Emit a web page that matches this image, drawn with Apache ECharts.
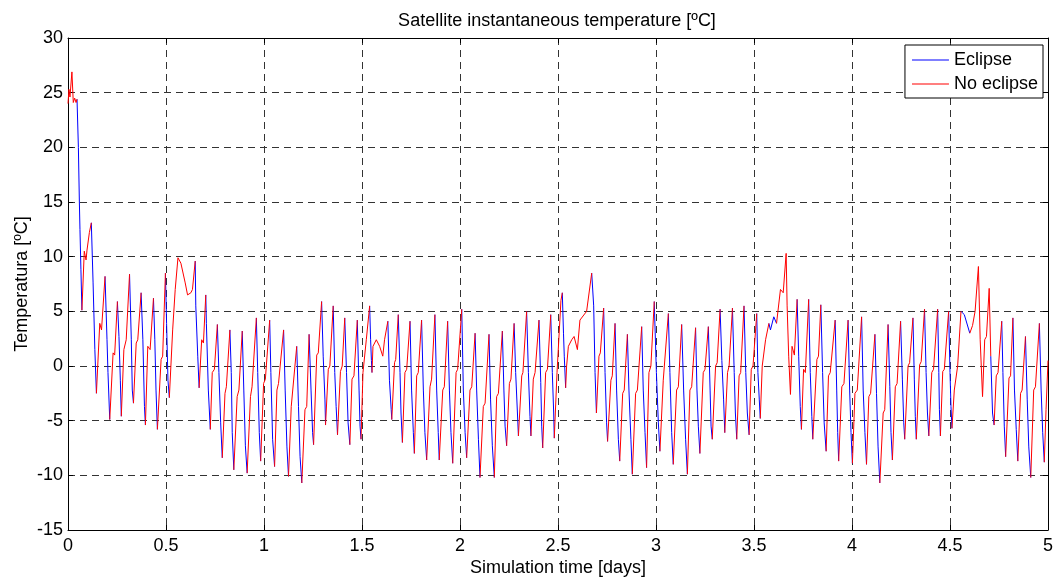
<!DOCTYPE html>
<html>
<head>
<meta charset="utf-8">
<script src="https://cdn.jsdelivr.net/npm/echarts@6/dist/echarts.min.js"></script>
<style>
  html, body { margin: 0; padding: 0; background: #fff; }
  #chart { width: 1053px; height: 577px; }
</style>
</head>
<body>
<div id="chart"></div>
<script>
// time [days] of each read point, one row per orbit (roughly)
var dayPts = [
  0.000,0.005,0.010,0.020,0.027,0.034,0.041,0.046,0.053,0.058,0.061,0.066,0.071,
  0.083,0.092,0.097,0.109,0.119,0.128,0.137,0.145,
  0.162,0.171,0.189,0.199,0.204,0.213,
  0.230,0.238,0.252,0.260,0.267,0.272,
  0.285,0.297,0.314,0.323,0.328,0.334,
  0.348,0.356,0.373,0.382,0.390,0.395,
  0.407,0.419,0.436,0.443,0.449,0.456,
  0.475,0.483,0.497,0.503,0.510,0.517,
  0.534,0.547,0.561,0.576,0.584,0.598,0.610,0.627,0.635,0.649,0.652,0.662,0.669,
  0.682,0.691,0.703,0.706,0.716,0.726,
  0.736,0.747,0.762,0.770,0.779,0.787,
  0.801,0.808,0.826,0.833,0.838,0.846,
  0.863,0.872,0.889,0.897,0.905,0.914,
  0.931,0.939,0.961,0.968,0.976,0.983,
  0.998,1.007,1.029,1.035,1.044,1.054,
  1.066,1.074,1.100,1.108,1.117,1.125,
  1.139,1.145,1.167,1.176,1.184,1.193,
  1.209,1.218,1.230,1.240,1.248,1.253,
  1.269,1.277,1.294,1.302,1.311,1.314,
  1.328,1.336,1.353,1.361,1.368,1.375,
  1.390,1.399,1.412,1.421,1.429,1.438,
  1.449,1.459,1.476,1.485,1.490,1.495,
  1.505,1.522,1.539,1.544,1.548,1.551,
  1.556,1.573,1.590,1.606,1.615,1.632,1.640,1.649,1.652,
  1.666,1.672,1.685,1.694,1.699,1.706,
  1.719,1.728,1.745,1.753,1.762,1.767,
  1.779,1.787,1.804,1.813,1.821,1.830,
  1.847,1.855,1.872,1.881,1.889,1.894,
  1.912,1.920,1.937,1.946,1.954,1.963,
  1.980,1.988,2.009,2.017,2.026,2.034,
  2.051,2.060,2.077,2.085,2.094,2.102,
  2.119,2.128,2.148,2.156,2.165,2.175,
  2.187,2.196,2.216,2.224,2.230,2.238,
  2.252,2.260,2.276,2.284,2.293,2.298,
  2.315,2.321,2.340,2.349,2.357,2.362,
  2.374,2.383,2.403,2.412,2.417,2.422,
  2.437,2.446,2.463,2.471,2.478,2.481,
  2.495,2.515,2.522,2.528,2.532,2.539,
  2.544,2.553,2.570,2.582,2.599,2.612,2.646,2.672,2.682,2.689,2.696,
  2.709,2.716,2.733,2.740,2.748,2.753,
  2.770,2.777,2.791,2.799,2.808,2.815,
  2.830,2.838,2.854,2.862,2.872,2.879,
  2.896,2.905,2.927,2.935,2.944,2.952,
  2.964,2.974,2.991,3.002,3.012,3.020,
  3.037,3.046,3.063,3.071,3.080,3.088,
  3.105,3.114,3.131,3.141,3.151,3.160,
  3.173,3.182,3.202,3.209,3.216,3.224,
  3.241,3.250,3.267,3.276,3.281,3.287,
  3.304,3.312,3.327,3.336,3.345,3.351,
  3.365,3.373,3.390,3.399,3.405,3.412,
  3.424,3.432,3.449,3.458,3.466,3.475,
  3.486,3.495,3.514,3.520,3.527,3.532,
  3.542,3.559,3.576,3.584,3.601,3.615,3.635,3.649,3.664,3.669,3.677,3.686,
  3.694,3.706,3.720,3.728,3.736,3.742,
  3.753,3.762,3.779,3.787,3.795,3.800,
  3.821,3.829,3.841,3.850,3.858,3.868,
  3.880,3.889,3.914,3.922,3.927,3.932,
  3.948,3.959,3.980,3.988,3.995,4.002,
  4.015,4.027,4.049,4.057,4.066,4.074,
  4.086,4.095,4.117,4.125,4.133,4.142,
  4.159,4.167,4.184,4.193,4.199,4.206,
  4.221,4.230,4.248,4.257,4.264,4.269,
  4.286,4.294,4.311,4.318,4.323,4.328,
  4.345,4.353,4.370,4.378,4.385,4.392,
  4.407,4.416,4.437,4.443,4.446,4.451,
  4.463,4.471,4.493,4.500,4.505,4.510,
  4.522,4.539,4.556,4.573,4.581,4.601,4.615,4.628,4.645,4.654,4.666,
  4.677,4.686,4.700,4.708,4.717,4.725,
  4.736,4.745,4.764,4.770,4.777,4.784,
  4.801,4.809,4.821,4.829,4.838,4.846,
  4.860,4.868,4.885,4.894,4.902,4.912,
  4.927,4.936,4.956,4.965,4.973,4.981,
  4.990,5.000
];

// temperature [ºC] at those points
var tempPts = [
  24.0,25.3,24.6,26.9,24.1,24.5,24.1,24.4,20.0,15.0,12.5,8.8,5.1,
  10.5,9.7,10.6,12.2,13.1,7.6,1.5,-2.5,
  3.9,3.3,8.2,2.4,-0.6,-4.9,
  1.2,1.0,5.9,2.7,-1.3,-4.6,
  1.5,2.4,8.4,2.4,-2.2,-3.4,
  2.1,2.4,6.7,2.4,-3.7,-5.4,
  1.8,1.5,6.2,2.4,-2.2,-5.8,
  0.6,0.9,8.5,3.9,-1.3,-2.9,
  3.3,7.0,9.9,9.4,9.3,7.6,6.5,6.7,7.0,9.6,5.5,0.9,-2.0,
  2.4,2.1,6.5,3.9,-2.2,-5.8,
  -0.6,-0.3,3.8,-0.6,-5.2,-8.4,
  -2.5,-1.9,3.3,-0.6,-6.1,-9.5,
  -2.8,-2.2,3.2,-2.2,-7.3,-9.8,
  -2.8,-1.9,4.4,-0.6,-6.1,-8.7,
  -1.6,-1.2,4.2,-0.6,-6.7,-9.2,
  -2.2,-1.6,3.3,-2.2,-7.4,-10.1,
  -3.7,-3.8,1.8,-3.7,-8.3,-10.7,
  -4.0,-3.7,2.9,-2.2,-6.1,-7.2,
  1.0,1.2,5.9,0.9,-3.1,-5.4,
  -0.3,0.0,5.5,-0.6,-3.7,-6.3,
  -0.5,0.0,4.4,-0.6,-5.2,-7.2,
  -1.2,-0.9,4.2,-2.2,-5.5,-6.7,
  -0.6,2.4,5.5,2.4,0.5,-0.6,
  1.8,2.4,1.8,0.9,2.4,4.1,-1.3,-4.0,-4.9,
  0.3,0.6,4.7,-0.6,-4.3,-7.0,
  -0.6,-0.3,4.1,-2.2,-6.1,-8.0,
  -0.9,-0.6,4.2,-2.2,-6.1,-8.6,
  -1.9,-1.2,4.7,-2.2,-6.1,-8.6,
  -2.2,-1.9,4.1,-2.2,-6.1,-8.9,
  -0.6,-0.3,5.2,-2.2,-6.1,-8.4,
  -2.2,-1.9,3.0,-2.2,-6.7,-10.2,
  -3.7,-3.4,2.9,-3.1,-7.3,-10.2,
  -2.8,-2.5,3.2,-2.2,-5.5,-7.3,
  -1.6,-1.2,3.9,-0.6,-4.3,-6.4,
  -0.9,-0.6,5.0,-0.6,-4.6,-6.4,
  -1.2,-0.6,4.2,-1.5,-5.5,-7.5,
  -0.6,-0.3,4.7,-0.6,-4.3,-6.6,
  -0.6,6.0,6.7,3.0,0.9,-2.0,
  0.0,1.8,2.4,2.7,1.5,4.2,5.0,8.5,5.5,-0.6,-4.3,
  0.9,1.2,5.3,-0.6,-5.2,-6.9,
  -1.3,-0.9,3.9,-2.2,-6.7,-8.7,
  -2.5,-2.2,2.9,-2.2,-6.7,-9.9,
  -2.5,-2.2,3.6,-2.2,-6.1,-9.3,
  -0.6,0.0,5.9,-0.6,-5.2,-7.8,
  -1.3,-1.3,4.8,-0.6,-6.1,-9.0,
  -2.2,-1.9,3.8,-2.2,-6.7,-9.9,
  -2.2,-1.9,3.5,-2.2,-5.5,-8.0,
  -0.6,-0.3,3.6,-2.2,-5.5,-6.7,
  0.0,0.3,5.2,0.5,-3.1,-6.1,
  -0.6,0.0,5.3,-0.6,-4.3,-6.7,
  -0.9,-0.6,5.5,-0.6,-4.3,-6.3,
  -0.3,0.0,4.8,-0.6,-3.1,-4.8,
  0.0,2.4,3.9,3.3,4.5,3.9,7.0,6.7,10.3,5.5,0.9,-2.6,
  1.8,1.0,6.1,0.9,-3.7,-5.8,
  -0.3,-0.6,6.1,-0.6,-4.6,-6.7,
  0.6,0.9,5.6,-0.6,-5.2,-7.8,
  -0.9,-0.6,4.2,-2.2,-6.1,-8.7,
  -1.9,-1.6,4.2,-2.2,-6.1,-8.9,
  -2.5,-2.2,4.5,-2.2,-6.1,-9.0,
  -2.8,-2.5,2.9,-2.5,-7.4,-10.7,
  -4.3,-4.0,3.8,-1.9,-6.1,-8.6,
  -1.9,-1.6,4.1,-1.2,-5.2,-6.7,
  0.0,0.3,4.4,-1.2,-4.6,-6.7,
  0.1,0.4,5.2,-0.6,-4.3,-6.4,
  -0.6,-0.3,5.2,-0.6,-4.0,-6.4,
  -0.5,-0.3,5.0,-0.6,-3.7,-5.7,
  -2.2,0.0,5.0,4.7,4.8,3.0,3.7,5.0,9.1,2.4,-2.8,
  2.4,2.7,7.1,0.9,-4.3,-5.4,
  -0.9,-0.6,4.1,-0.6,-5.5,-8.3,
  -1.1,-0.9,4.4,-2.2,-5.8,-8.7,
  -2.5,-2.2,2.7,-3.1,-7.4,-10.2,
  -2.2,-1.9,3.9,-2.2,-6.1,-8.8,
  -4.0,0.5
];

// which state the curve is in on the way into each point: S = sunlit, E = eclipse
var phaseRows = [
  'SSSSSSSSEEEEE', 'SSSSSEEE',
  'SSSEEE', 'SSSEEE', 'SSSEEE', 'SSSEEE', 'SSSEEE', 'SSSEEE',
  'SSSSSSSSSSEEE',
  'SSSEEE', 'SSSEEE', 'SSSEEE', 'SSSEEE', 'SSSEEE', 'SSSEEE', 'SSSEEE', 'SSSEEE',
  'SSSEEE', 'SSSEEE', 'SSSEEE', 'SSSEEE', 'SSSEEE', 'SSSEEE',
  'SSSSSSEEE',
  'SSSEEE', 'SSSEEE', 'SSSEEE', 'SSSEEE', 'SSSEEE', 'SSSEEE', 'SSSEEE', 'SSSEEE',
  'SSSEEE', 'SSSEEE', 'SSSEEE', 'SSSEEE', 'SSSEEE', 'SSSEEE',
  'SSSSSSSSEEE',
  'SSSEEE', 'SSSEEE', 'SSSEEE', 'SSSEEE', 'SSSEEE', 'SSSEEE', 'SSSEEE', 'SSSEEE',
  'SSSEEE', 'SSSEEE', 'SSSEEE', 'SSSEEE', 'SSSEEE', 'SSSEEE',
  'SSSSSSSSSEEE',
  'SSSEEE', 'SSSEEE', 'SSSEEE', 'SSSEEE', 'SSSEEE', 'SSSEEE', 'SSSEEE', 'SSSEEE',
  'SSSEEE', 'SSSEEE', 'SSSEEE', 'SSSEEE', 'SSSEEE',
  'SSSSSSSSSEE',
  'SSSEEE', 'SSSEEE', 'SSSEEE', 'SSSEEE', 'SSSEEE',
  'SS'
];
var phase = phaseRows.join('');

var xTicks = { min: 0, max: 5, step: 0.5 };
var yTicks = { min: -15, max: 30, step: 5 };

// split the single curve into the pieces of one state, with gaps between pieces
function pieces(state) {
  var out = [], last = -2;
  for (var i = 1; i < dayPts.length; i++) {
    if (phase[i] !== state) continue;
    if (last !== i - 1) {
      if (out.length) out.push([dayPts[i - 1], null]);
      out.push([dayPts[i - 1], tempPts[i - 1]]);
    }
    out.push([dayPts[i], tempPts[i]]);
    last = i;
  }
  return out;
}

var font = 'Liberation Sans, Arial, Helvetica, sans-serif';
var gridDash = { color: '#333', type: [7, 5], width: 1 };

var myChart = echarts.init(document.getElementById('chart'), null, { renderer: 'canvas' });
var option = {
  animation: false,
  backgroundColor: '#fff',
  title: {
    text: 'Satellite instantaneous temperature [ºC]',
    left: 557,
    top: 12,
    padding: 0,
    textAlign: 'center',
    textStyle: { fontFamily: font, fontSize: 18, fontWeight: 'normal', color: '#000' }
  },
  legend: {
    data: ['Eclipse', 'No eclipse'],
    orient: 'vertical',
    right: 10,
    top: 45,
    padding: [6, 5, 5, 7],
    icon: 'rect',
    itemWidth: 37,
    itemHeight: 1.2,
    itemGap: 6,
    backgroundColor: '#fff',
    borderColor: '#000',
    borderWidth: 1,
    textStyle: { fontFamily: font, fontSize: 18, color: '#000', lineHeight: 18 }
  },
  grid: { left: 68, right: 5, top: 38, bottom: 47, containLabel: false, outerBoundsMode: 'none' },
  xAxis: [{
    type: 'value',
    min: xTicks.min, max: xTicks.max, interval: xTicks.step,
    name: 'Simulation time [days]',
    nameLocation: 'middle',
    nameGap: 29,
    nameMoveOverlap: false,
    nameTextStyle: { fontFamily: font, fontSize: 18, color: '#000' },
    axisLine: { onZero: false, lineStyle: { color: '#000', width: 1 } },
    axisTick: { inside: true, length: 5, lineStyle: { color: '#000' } },
    axisLabel: { fontFamily: font, fontSize: 18, color: '#000', margin: 7 },
    splitLine: { show: true, lineStyle: gridDash }
  }, {
    type: 'value', position: 'top',
    min: xTicks.min, max: xTicks.max, interval: xTicks.step,
    axisLine: { onZero: false, lineStyle: { color: '#000', width: 1 } },
    axisTick: { inside: true, length: 5, lineStyle: { color: '#000' } },
    axisLabel: { show: false },
    splitLine: { show: false }
  }],
  yAxis: [{
    type: 'value',
    min: yTicks.min, max: yTicks.max, interval: yTicks.step,
    name: 'Temperatura [ºC]',
    nameLocation: 'middle',
    nameGap: 37,
    nameMoveOverlap: false,
    nameTextStyle: { fontFamily: font, fontSize: 18, color: '#000' },
    axisLine: { show: true, onZero: false, lineStyle: { color: '#000', width: 1 } },
    axisTick: { show: true, inside: true, length: 5, lineStyle: { color: '#000' } },
    axisLabel: { fontFamily: font, fontSize: 18, color: '#000', margin: 5 },
    splitLine: { show: true, lineStyle: gridDash }
  }, {
    type: 'value', position: 'right',
    min: yTicks.min, max: yTicks.max, interval: yTicks.step,
    axisLine: { show: true, onZero: false, lineStyle: { color: '#000', width: 1 } },
    axisTick: { show: true, inside: true, length: 5, lineStyle: { color: '#000' } },
    axisLabel: { show: false },
    splitLine: { show: false }
  }],
  series: [
    {
      name: 'Eclipse',
      type: 'line',
      symbol: 'none',
      connectNulls: false,
      color: '#0000ff',
      lineStyle: { color: '#0000ff', width: 1 },
      data: pieces('E')
    },
    {
      name: 'No eclipse',
      type: 'line',
      symbol: 'none',
      connectNulls: false,
      color: '#ff0000',
      lineStyle: { color: '#ff0000', width: 1 },
      data: pieces('S')
    }
  ]
};
myChart.setOption(option);
</script>
</body>
</html>
